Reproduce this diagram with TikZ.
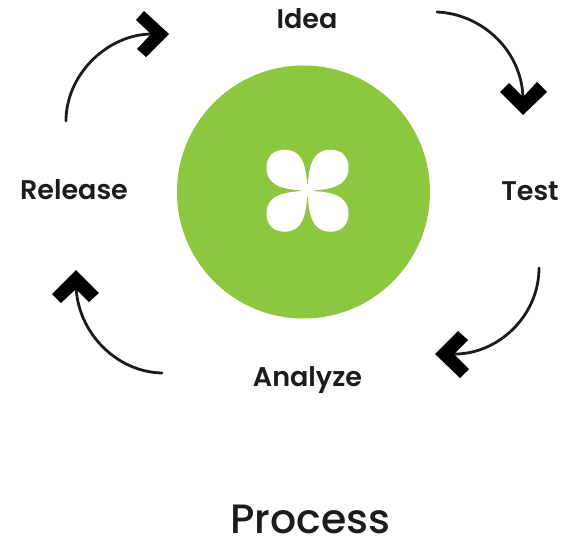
\documentclass[tikz,border=0pt]{standalone}
\usepackage{fontspec}
\setmainfont{Poppins}
\newfontfamily\lblfont{Poppins SemiBold}
\newfontfamily\ttlfont{Poppins Medium}
\definecolor{leaf}{HTML}{8DC63F}
\definecolor{ink}{HTML}{1C1C1C}
\tikzset{
  x=1pt,y=-1pt,
  label text/.style={font=\lblfont\fontsize{27}{30}\selectfont,text=ink,inner sep=0pt,anchor=base},
  title text/.style={font=\ttlfont\fontsize{41}{44}\selectfont,text=ink,inner sep=0pt,anchor=base},
  curve/.style={draw=ink,line width=2.8pt,line cap=round},
  chev/.style={fill=black,draw=none},
  petal/.style={fill=white,draw=none}
}
\begin{document}
\begin{tikzpicture}
\useasboundingbox (0,0) rectangle (571,536);
\node[circle,fill=leaf,minimum size=253pt,inner sep=0pt] (hub) at (303.5,192) {};
\foreach \sx/\sy in {1/1,-1/1,1/-1,-1/-1}{
  \fill[petal,shift={(307.5,190.7)},xscale=\sx,yscale=\sy]
    (0,0) .. controls (1,-18) and (2,-41) .. (23,-41)
    .. controls (34,-41) and (41,-34) .. (41,-23)
    .. controls (41,-2) and (18,-1) .. (0,0) -- cycle;
}
\fill[petal] (307.5,184) -- (314,190.7) -- (307.5,197.4) -- (301,190.7) -- cycle;
\node[label text] (idea) at (307,28) {Idea};
\node[label text] (test) at (530,200) {Test};
\node[label text] (analyze) at (307.5,386) {Analyze};
\node[label text] (release) at (74,199) {Release};
\node[title text] (process) at (310.5,533) {Process};
\coordinate (a1s) at (437,12);
\coordinate (a1e) at (523,100);
\coordinate (a2s) at (539,268);
\coordinate (a2e) at (455,354);
\coordinate (a3s) at (162,373);
\coordinate (a3e) at (76,285);
\coordinate (a4s) at (66,121);
\coordinate (a4e) at (152,34);
\draw[curve] (a1s) .. controls (483,14) and (523,52) .. (a1e);
\draw[curve] (a2s) .. controls (539,316) and (498,354) .. (a2e);
\draw[curve] (a3s) .. controls (116,372) and (77,332) .. (a3e);
\draw[curve] (a4s) .. controls (66,74) and (108,34) .. (a4e);
\fill[chev] (523,115) -- (500,92) -- (509,83) -- (523,97) -- (537,82) -- (547,92) -- cycle;
\fill[chev] (435,354) -- (458,331) -- (468,340) -- (454,354) -- (469,369) -- (460,378) -- cycle;
\fill[chev] (76,270) -- (52,294) -- (61,303) -- (76,289) -- (89,302) -- (99,293) -- cycle;
\fill[chev] (169,34) -- (144,11) -- (136,20) -- (151,34) -- (137,49) -- (146,57) -- cycle;
\end{tikzpicture}
\end{document}
